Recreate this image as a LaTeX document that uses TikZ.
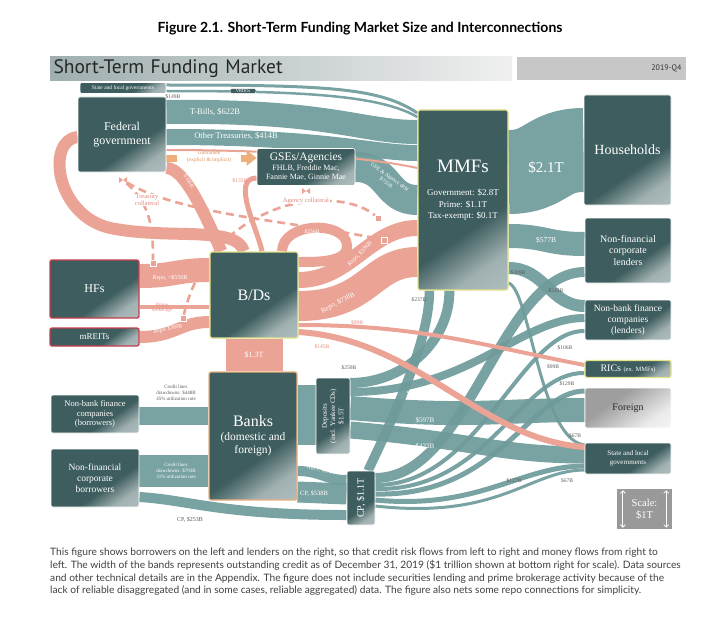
\documentclass[tikz,border=0pt]{standalone}
\usepackage{fontspec}
\setmainfont{Liberation Serif}
\newfontfamily\latofont{Lato}
\newfontfamily\ptfont{PT Sans}
\usepackage{xcolor}
\usepackage{tikz}
\usetikzlibrary{arrows.meta, positioning, calc}

\definecolor{boxdark}{HTML}{3E5D5E}
\definecolor{boxlight}{HTML}{C2CDCD}
\definecolor{bandteal}{HTML}{6E9A9A}
\definecolor{bandpink}{HTML}{EBA396}
\definecolor{pinktext}{HTML}{E08A7E}
\definecolor{hfred}{HTML}{C53F4C}
\definecolor{mmfyellow}{HTML}{E2E38A}
\definecolor{guarorange}{HTML}{EDB07C}
\definecolor{guartext}{HTML}{D98E55}
\definecolor{labgray}{HTML}{5A5A5A}
\newcommand\fsz[2]{\fontsize{#1}{#2}\selectfont}
\pgfdeclareverticalshading{boxshade}{100bp}{color(0bp)=(boxlight); color(26bp)=(boxlight!75!boxdark); color(40bp)=(boxdark); color(100bp)=(boxdark)}
\pgfdeclareverticalshading{foreignshade}{100bp}{color(0bp)=(white); color(30bp)=(white!92!black); color(62bp)=(black!38); color(100bp)=(black!38)}
\pgfdeclarelayer{bg}
\pgfsetlayers{bg,main}

\begin{document}
\begin{tikzpicture}[x=1pt, y=-1pt,
    box/.style={rectangle, draw=white, line width=0.6pt, rounded corners=2pt, shade, shading=boxshade, shading angle=35, text=white, align=center, inner sep=1pt},
    redbox/.style={box, draw=hfred, line width=1.3pt},
    yelbox/.style={box, draw=mmfyellow, line width=1.3pt},
    band/.style={draw=bandteal, line cap=butt, draw opacity=0.92},
    pband/.style={draw=bandpink, line cap=butt},
    coll/.style={draw=bandpink, line width=2.6pt, dash pattern=on 8pt off 5pt},
    cmark/.style={rectangle, fill=bandpink, draw=white, line width=0.5pt, minimum size=6pt, inner sep=0pt},
    bowtie/.style={minimum width=8pt, minimum height=6pt, inner sep=0pt, path picture={\fill[bandpink] (path picture bounding box.north west) -- (path picture bounding box.south east) -- (path picture bounding box.north east) -- (path picture bounding box.south west) -- cycle;}},
    wlab/.style={text=white, align=center, inner sep=0.5pt, font=\fsz{5.5}{6.5}},
    glab/.style={text=labgray, align=center, inner sep=0.5pt, font=\fsz{5.5}{6.5}},
    plab/.style={text=pinktext, align=center, inner sep=0.5pt, font=\fsz{5.5}{6.5}},
    guar/.style={draw=guarorange, line width=7pt, dash pattern=on 11pt off 64pt on 40pt, -{Triangle[width=15pt,length=10pt]}}
]
    \useasboundingbox (0,0) rectangle (719,623);

    % Title and header
    \node[font=\latofont\bfseries\fsz{14}{16}] (title) at (360,29) {Figure 2.1. Short-Term Funding Market Size and Interconnections};
    \node[rectangle, left color=boxdark!50!white, right color=white!94!black, minimum width=462pt, minimum height=23pt, text width=455pt, align=left, inner sep=3pt, font=\ptfont\fsz{19.5}{21}, text=black!85] (header) at (281,68.5) {Short-Term Funding Market};
    \node[rectangle, fill=black!22, minimum width=169pt, minimum height=23pt, text width=160pt, align=right, font=\ptfont\fsz{8}{9}, text=black!80] (period) at (601.5,68.5) {2019-Q4};

    % Nodes: borrowers
    \node[box, minimum width=86pt, minimum height=11pt, font=\fsz{5.5}{6}] (slgtop) at (123,88) {State and local governments};
    \node[box, minimum width=88pt, minimum height=75pt, font=\fsz{12}{14}] (fedgov) at (122,134.5) {Federal\\government};
    \node[box, minimum width=98pt, minimum height=37pt, font=\fsz{8}{9.5}] (gses) at (306,167) {{\fsz{11.5}{13}GSEs/Agencies}\\FHLB, Freddie Mac,\\Fannie Mae, Ginnie Mae};
    \node[redbox, minimum width=89pt, minimum height=58pt, font=\fsz{12}{14}] (hfs) at (94.5,289) {HFs};
    \node[redbox, minimum width=89pt, minimum height=18pt, font=\fsz{9}{10}] (mreits) at (94.5,337) {mREITs};
    \node[box, minimum width=88pt, minimum height=38pt, font=\fsz{8.5}{9.8}] (nbfb) at (95,414) {Non-bank finance\\companies\\(borrowers)};
    \node[box, minimum width=88pt, minimum height=58pt, font=\fsz{9.5}{11}] (nfcb) at (95,478) {Non-financial\\corporate\\borrowers};

    % Nodes: intermediaries
    \node[yelbox, minimum width=88pt, minimum height=86pt, font=\fsz{16}{18}] (bds) at (254,295) {B/Ds};
    \node[box, draw=guarorange, line width=1.3pt, minimum width=88pt, minimum height=128pt, font=\fsz{11.5}{13.5}] (banks) at (253,436) {{\fsz{16}{19}Banks}\\(domestic and\\foreign)};
    \node[box, rotate=90, minimum width=76pt, minimum height=34pt, font=\fsz{7}{8.3}] (deposits) at (333,416) {Deposits\\(incl. Yankee CDs)\\\$1.5T};
    \node[box, rotate=90, minimum width=54pt, minimum height=28pt, font=\fsz{10}{11}] (cp) at (361,498) {CP, \$1.1T};
    \node[yelbox, minimum width=90pt, minimum height=180pt] (mmfs) at (463,200) {};
    \node[text=white, font=\fsz{19}{22}] (mmfsname) at (463,166) {MMFs};
    \node[text=white, align=center, font=\fsz{9}{11.5}] (mmfsinfo) at (463,205) {Government: \$2.8T\\Prime: \$1.1T\\Tax-exempt: \$0.1T};

    % Nodes: lenders
    \node[box, minimum width=87pt, minimum height=110pt, font=\fsz{14}{16}] (hh) at (627.5,150) {Households};
    \node[box, minimum width=86pt, minimum height=65pt, font=\fsz{10}{11.5}] (nfcl) at (628,250.5) {Non-financial\\corporate\\lenders};
    \node[box, minimum width=86pt, minimum height=40pt, font=\fsz{9.5}{11}] (nbfl) at (628,320) {Non-bank finance\\companies\\(lenders)};
    \node[yelbox, minimum width=86pt, minimum height=17pt, font=\fsz{10}{11}] (rics) at (628,369) {RICs {\fsz{6.5}{7}(ex. MMFs)}};
    \node[box, shading=foreignshade, shading angle=35, text=black!85, minimum width=86pt, minimum height=40pt, font=\fsz{10}{11}] (foreign) at (628,408) {Foreign};
    \node[box, minimum width=86pt, minimum height=31pt, font=\fsz{7}{8.5}] (slgr) at (628,458.5) {State and local\\governments};

    % Scale
    \node[rectangle, fill=black!40, minimum width=55pt, minimum height=40pt, text=white, align=center, font=\fsz{10.5}{12.5}] (scale) at (644.5,509) {Scale:\\\$1T};
    \draw[white, line width=0.8pt, {Straight Barb[length=2.5pt]}-{Straight Barb[length=2.5pt]}] ($(scale.north west)+(6,1.5)$) -- ($(scale.south west)+(6,-1.5)$);
    \draw[white, line width=0.8pt, {Straight Barb[length=2.5pt]}-{Straight Barb[length=2.5pt]}] ($(scale.north east)+(-6,1.5)$) -- ($(scale.south east)+(-6,-1.5)$);

    % Collateral markers
    \node[bowtie] (trbow) at (123,180) {};
    \node[bowtie] (agbow) at (306,191) {};
    \node[cmark] (trhf) at (153,263) {};
    \node[cmark] (trmmf) at (384,240) {};
    \node[cmark] (agmr) at (183,318) {};
    \node[cmark] (agmmf) at (378,218) {};

    \begin{pgfonlayer}{bg}
    % Connections: teal bands
    \draw[band, line width=3pt] (slgtop.east |- 0,85) .. controls (330,85) and (380,88) .. (mmfs.west |- 0,113);
    \draw[band, line width=2.5pt] (slgtop.east |- 0,91) .. controls (300,91) and (380,95) .. (mmfs.west |- 0,117);
    \draw[band, line width=24pt] (fedgov.east |- 0,112) .. controls (330,110) and (360,132) .. (mmfs.west |- 0,132);
    \draw[band, line width=16pt] (fedgov.east |- 0,137) .. controls (330,137) and (370,153) .. (mmfs.west |- 0,153);
    \draw[band, line width=30pt] (gses.east) .. controls (390,167) and (385,200) .. (mmfs.west |- 0,200);
    \draw[band, line width=84pt] (mmfs.east |- 0,172) .. controls (546,172) and (546,150) .. (hh.west);
    \draw[band, line width=24pt] (mmfs.east |- 0,236) .. controls (546,236) and (546,244) .. (nfcl.west |- 0,244);
    \draw[band, line width=12pt] (mmfs.east |- 0,268) .. controls (545,268) and (550,306) .. (nbfl.west |- 0,306);
    \draw[band, line width=3pt] (mmfs.east |- 0,283) .. controls (530,290) and (540,440) .. (slgr.west |- 0,445);
    \draw[band, line width=10pt] (cp.south |- 0,478) .. controls (470,478) and (500,272) .. (nfcl.west |- 0,272);
    \draw[band, line width=8pt] (deposits.south |- 0,392) .. controls (470,392) and (520,318) .. (nbfl.west |- 0,318);
    \draw[band, line width=4pt] (cp.south |- 0,485) .. controls (480,486) and (520,330) .. (nbfl.west |- 0,331);
    \draw[band, line width=4pt] (cp.south |- 0,489) .. controls (490,491) and (520,372) .. (rics.west |- 0,373);
    \draw[band, line width=5pt] (cp.south |- 0,494) .. controls (500,497) and (530,391) .. (foreign.west |- 0,391);
    \draw[band, line width=24pt] (deposits.south |- 0,408) .. controls (470,418) and (500,410) .. (foreign.west |- 0,410);
    \draw[band, line width=17pt] (deposits.south |- 0,430) .. controls (470,440) and (500,455) .. (slgr.west |- 0,455);
    \draw[band, line width=5pt] (cp.south |- 0,500) .. controls (480,510) and (520,466) .. (slgr.west |- 0,466);
    \draw[band, line width=3pt] (cp.south |- 0,506) .. controls (500,520) and (530,470) .. (slgr.west |- 0,470);
    \draw[band, line width=9.5pt] ($(cp.east)+(7,0)$) .. controls (392,420) and (430,340) .. ($(mmfs.south west)+(12,0)$);
    \draw[band, line width=10pt] (deposits.south |- 0,383) .. controls (405,383) and (450,340) .. ($(mmfs.south west)+(32,0)$);
    \draw[band, line width=18pt] (nbfb.east |- 0,416) -- (banks.west |- 0,416);
    \draw[band, line width=32pt] (nfcb.east |- 0,471) -- (banks.west |- 0,471);
    \draw[band, line width=10pt] (nfcb.east |- 0,497) .. controls (190,500) and (220,515) .. (cp.north |- 0,515);
    \draw[band, line width=60pt] (banks.east |- 0,415) -- (deposits.north |- 0,415);
    \draw[band, line width=10pt] (banks.east |- 0,471) .. controls (320,471) and (325,480) .. (cp.north |- 0,480);
    \draw[band, line width=21pt] (banks.east |- 0,492) -- (cp.north |- 0,494);

    % Connections: pink bands
    \draw[pband, line width=57pt] (bds.south) -- (bds.south |- banks.north);
    \draw[pband, line width=12pt] (fedgov.west |- 0,137) .. controls (46,140) and (55,215) .. (110,228) .. controls (170,240) and (236,225) .. ($(bds.north)+(-10,0)$);
    \draw[pband, line width=12pt] (fedgov.east |- 0,168) .. controls (185,168) and (205,215) .. ($(bds.north west)+(12,0)$);
    \draw[pband, line width=5pt] (gses.west |- 0,178) .. controls (230,178) and (258,230) .. ($(bds.north)+(8,0)$);
    \draw[pband, line width=10pt] ($(bds.north)+(28,0)$) .. controls (282,222) and (345,220) .. (347,245) .. controls (348,262) and (320,262) .. (bds.east |- 0,262);
    \draw[pband, line width=16pt] (bds.east |- 0,280) .. controls (350,280) and (370,228) .. (mmfs.west |- 0,228);
    \draw[pband, line width=30pt] (bds.east |- 0,306) .. controls (370,306) and (370,262) .. (mmfs.west |- 0,262);
    \draw[pband, line width=2pt] (fedgov.east |- 0,150) .. controls (300,150) and (380,160) .. (mmfs.west |- 0,168);
    \draw[pband, line width=4pt] (bds.east |- 0,325) .. controls (420,325) and (480,345) .. (rics.west |- 0,365);
    \draw[pband, line width=6pt] (bds.east |- 0,332) .. controls (420,340) and (480,440) .. (slgr.west |- 0,447);
    \draw[pband, line width=24pt] (hfs.east |- 0,276) .. controls (175,276) and (175,270) .. (bds.west |- 0,270);
    \draw[pband, line width=4pt] (hfs.east |- 0,307) -- (bds.west |- 0,307);
    \draw[pband, line width=12pt] (mreits.east) .. controls (175,337) and (180,322) .. (bds.west |- 0,322);

    % Collateral
    \draw[coll] (trbow) .. controls (150,205) and (153,225) .. (trhf);
    \draw[coll] (trbow) .. controls (180,215) and (300,222) .. (trmmf);
    \draw[coll] (agmr) .. controls (195,268) and (225,225) .. (285,206) .. controls (330,195) and (360,203) .. (agmmf);
    \draw[guar] (fedgov.east |- 0,158) -- (gses.west |- 0,158);
    \end{pgfonlayer}

    % Band labels
    \node[glab] (l149) at (173,97) {\$149B};
    \node[rectangle, rounded corners=2pt, fill=boxdark, draw=white, line width=0.4pt, text=white, font=\fsz{4.5}{5}, inner sep=0.8pt, minimum width=26pt] (vrdo) at (243,91) {VRDOs};
    \node[wlab, font=\fsz{8.5}{10}] (ltbill) at (215,112) {T-Bills, \$622B};
    \node[wlab, font=\fsz{8.5}{10}] (lother) at (236,136) {Other Treasuries, \$414B};
    \node[wlab, rotate=-35] (lgse) at (388,180) {GSE \& Agency debt\\\$755B};
    \node[wlab, font=\fsz{15}{17}] (l21) at (546,168) {\$2.1T};
    \node[wlab, font=\fsz{7.5}{9}] (l577) at (546,240) {\$577B};
    \node[glab] (l309) at (518,273) {\$309B};
    \node[glab] (l242) at (556,291) {\$242B};
    \node[glab] (l237) at (419,300) {\$237B};
    \node[glab] (l106) at (565,348) {\$106B};
    \node[glab] (l99) at (553,367) {\$99B};
    \node[glab] (l129) at (567,384) {\$129B};
    \node[glab] (l67a) at (575,436) {\$67B};
    \node[glab] (l127) at (514,481) {\$127B};
    \node[glab] (l67b) at (567,481) {\$67B};
    \node[glab] (l259) at (349,368) {\$259B};
    \node[wlab, rotate=10] (l200) at (414,392) {\$200B};
    \node[wlab, font=\fsz{7}{8}] (l597) at (425,420) {\$597B};
    \node[wlab, font=\fsz{7}{8}] (l423) at (425,446) {\$423B};
    \node[glab, font=\fsz{5}{6}] (lclnb) at (176,393) {Credit lines\\drawdowns: \$448B\\45\% utilization rate};
    \node[wlab, font=\fsz{5}{6}] (lclnf) at (176,471) {Credit lines\\drawdowns: \$793B\\31\% utilization rate};
    \node[glab, font=\fsz{6}{7}] (lcp253) at (190,520) {CP, \$253B};
    \node[wlab, rotate=-12, font=\fsz{5}{6}] (labcp) at (321,470) {ABCP, \$255B};
    \node[wlab, font=\fsz{6.5}{7.5}] (lcp538) at (314,494) {CP, \$538B};
    \node[wlab, font=\fsz{8}{9}] (l13) at (254,355) {\$1.3T};
    \node[wlab, font=\fsz{6}{7}] (lrhf) at (170,278) {Repo, \textasciitilde\$550B};
    \node[wlab, rotate=12] (lrmr) at (168,329) {Repo, \$300B};
    \node[plab, font=\fsz{5}{5.5}] (lprime) at (162,308) {Prime\\brokerage};
    \node[wlab, rotate=-58] (l336) at (189,181) {\$336B};
    \node[plab] (l135) at (240,181) {\$135B};
    \node[wlab] (l256) at (312,232) {\$256B};
    \node[wlab, rotate=45, font=\fsz{6}{7}] (lr396) at (360,254) {Repo, \$396B};
    \node[wlab, rotate=28, font=\fsz{7}{8}] (lr738) at (338,303) {Repo, \$738B};
    \node[plab] (lp99) at (357,323) {\$99B};
    \node[plab] (lp145) at (322,347) {\$145B};
    \node[plab, fill=white, font=\fsz{6.5}{7.5}] (ltrcoll) at (147,200) {Treasury\\collateral};
    \node[plab, fill=white, font=\fsz{6.5}{7.5}] (lagcoll) at (306,201) {Agency collateral};
    \node[text=guartext, align=center, font=\fsz{5.5}{6.5}] (lguar) at (209,157) {Guarantee\\(explicit \& implicit)};

    % Caption
    \node[anchor=north west, align=left, inner sep=0pt, text=black!75, font=\latofont\fsz{10.2}{12.7}] (caption) at (50,548) {This figure shows borrowers on the left and lenders on the right, so that credit risk flows from left to right and money flows from right to\\left. The width of the bands represents outstanding credit as of December 31, 2019 (\$1 trillion shown at bottom right for scale). Data sources\\and other technical details are in the Appendix. The figure does not include securities lending and prime brokerage activity because of the\\lack of reliable disaggregated (and in some cases, reliable aggregated) data. The figure also nets some repo connections for simplicity.};
\end{tikzpicture}
\end{document}
